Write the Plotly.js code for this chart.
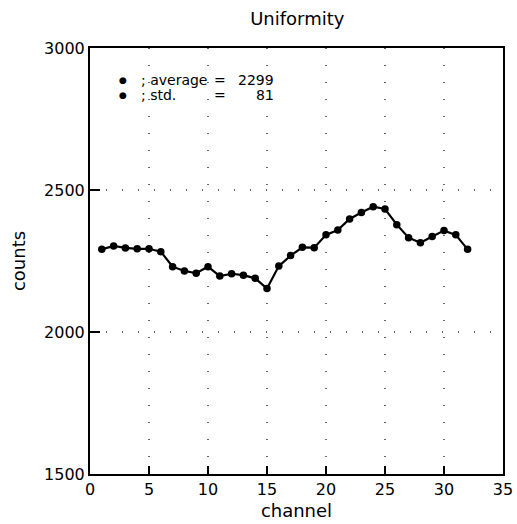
<!DOCTYPE html>
<html>
<head>
<meta charset="utf-8">
<script src="https://cdn.plot.ly/plotly-3.0.1.min.js"></script>
<style>html,body{margin:0;padding:0;background:#fff;}</style>
</head>
<body>
<div id="chart" style="width:517px;height:524px;"></div>
<script>
const channels = [1,2,3,4,5,6,7,8,9,10,11,12,13,14,15,16,17,18,19,20,21,22,23,24,25,26,27,28,29,30,31,32];
const counts = [2291,2303,2296,2293,2293,2283,2230,2215,2207,2230,2197,2205,2200,2189,2153,2232,2269,2298,2297,2342,2359,2398,2421,2441,2433,2378,2332,2314,2336,2357,2342,2291];
const xTicks = [0,5,10,15,20,25,30,35];
const yTicks = [1500,2000,2500,3000];
const statLabels = ["average", "std."];
const statValues = ["2299", "81"];

const FONT = "DejaVu Sans, sans-serif";
const annotations = [];
statLabels.forEach((lab, i) => {
  const y = 0.9249 - i * 0.0352;
  annotations.push({xref:'paper', yref:'paper', x:0.0799, y:y, xanchor:'center', yanchor:'middle', showarrow:false,
    text:'\u25CF', font:{family:FONT, size:9, color:'#000'}});
  annotations.push({xref:'paper', yref:'paper', x:0.1186, y:y, xanchor:'left', yanchor:'middle', showarrow:false,
    text:'; ' + lab, font:{family:FONT, size:14, color:'#000'}});
  annotations.push({xref:'paper', yref:'paper', x:0.3148, y:y, xanchor:'center', yanchor:'middle', showarrow:false,
    text:'=', font:{family:FONT, size:14, color:'#000'}});
  annotations.push({xref:'paper', yref:'paper', x:0.4504, y:y, xanchor:'right', yanchor:'middle', showarrow:false,
    text:statValues[i], font:{family:FONT, size:14, color:'#000'}});
});

const trace = {
  x: channels, y: counts, type:'scatter', mode:'lines+markers',
  line:{color:'#000', width:2.2},
  marker:{color:'#000', size:7.5, symbol:'circle'},
  hoverinfo:'skip', showlegend:false
};

const layout = {
  width:517, height:524,
  margin:{l:90, r:14, t:48, b:50, pad:0},
  paper_bgcolor:'#fff', plot_bgcolor:'#fff',
  font:{family:FONT, size:16, color:'#000'},
  title:{text:'Uniformity', font:{family:FONT, size:18, color:'#000'}, x:0.575, xanchor:'center', y:0.965, yanchor:'middle'},
  xaxis:{
    range:[0,35], tickvals:xTicks, ticktext:xTicks.map(String),
    ticks:'inside', ticklen:8, tickwidth:2, tickcolor:'#000',
    showline:true, linecolor:'#000', linewidth:2, mirror:true,
    showgrid:true, gridcolor:'#666', gridwidth:1.5, griddash:'1px,16px',
    zeroline:false, tickfont:{size:16},
    title:{text:'channel', font:{size:18}, standoff:6}
  },
  yaxis:{
    range:[1500,3000], tickvals:yTicks, ticktext:yTicks.map(String),
    ticks:'inside', ticklen:10, tickwidth:2, tickcolor:'#000',
    showline:true, linecolor:'#000', linewidth:2, mirror:true,
    showgrid:true, gridcolor:'#666', gridwidth:1.5, griddash:'1px,15px',
    zeroline:false, tickfont:{size:16},
    title:{text:'counts', font:{size:18}, standoff:14}
  },
  annotations: annotations
};

Plotly.newPlot('chart', [trace], layout, {staticPlot:true, displayModeBar:false});
</script>
</body>
</html>
